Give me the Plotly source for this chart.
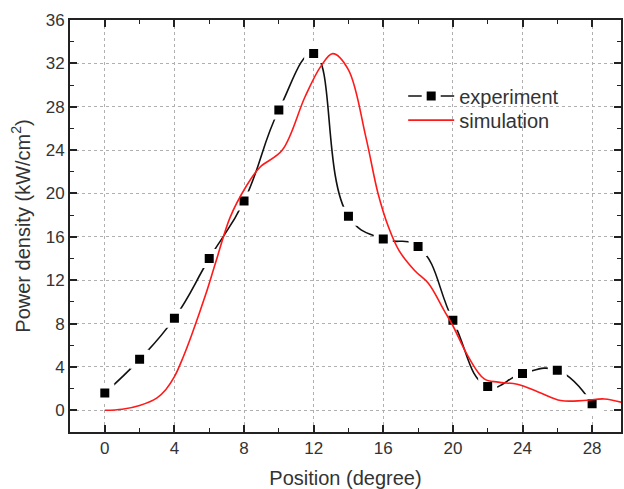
import plotly.graph_objects as go

# Experiment data
exp_x = [0, 2, 4, 6, 8, 10, 12, 14, 16, 18, 20, 22, 24, 26, 28]
exp_y = [1.6, 4.7, 8.5, 14.0, 19.3, 27.7, 32.9, 17.9, 15.8, 15.1, 8.3, 2.2, 3.4, 3.7, 0.6]

# Simulation curve
sim_x = [0, 1, 2, 3, 3.5, 4.0, 4.5, 5.0, 5.8, 6.4, 7.2, 8.1, 8.9, 10.2, 11.5, 12.4, 13.1, 14.0, 15.0, 15.7,
         16.3, 16.9, 17.8, 18.6, 19.5, 20.0, 20.9, 21.8, 22.6, 23.7, 24.9, 26.2, 27.5, 28.7, 29.7]
sim_y = [0, 0.1, 0.45, 1.15, 1.9, 3.1, 4.9, 7.0, 10.7, 13.8, 17.8, 20.6, 22.4, 24.0, 28.9, 31.7, 32.9, 31.4, 25.2, 20.0,
         16.9, 14.75, 12.9, 11.7, 9.2, 7.8, 4.9, 2.9, 2.6, 2.4, 1.7, 0.9, 0.9, 1.05, 0.74]

x_ticks = [0, 4, 8, 12, 16, 20, 24, 28]
y_ticks = [0, 4, 8, 12, 16, 20, 24, 28, 32, 36]

FONT = "Liberation Sans, Arial, sans-serif"

fig = go.Figure()
fig.add_trace(go.Scatter(
    x=exp_x, y=exp_y, name="experiment", mode="lines+markers", legend="legend",
    line=dict(color="#111111", width=1.6, shape="spline", smoothing=1.3),
    marker=dict(symbol="square", size=14, color="#000000",
                line=dict(color="white", width=5)),
))
fig.add_trace(go.Scatter(
    x=sim_x, y=sim_y, name="simulation", mode="lines", legend="legend2",
    line=dict(color="#ff1a1a", width=1.6, shape="spline", smoothing=1.0),
))

axis_common = dict(
    showline=True, linecolor="#222222", linewidth=2, mirror="ticks",
    ticks="inside", ticklen=7, tickwidth=1.5, tickcolor="#222222",
    showgrid=True, gridcolor="#b0b0b0", gridwidth=1, griddash="3px,3px",
    zeroline=False,
    tickfont=dict(family=FONT, size=17, color="#333333"),
    minor=dict(ticks="inside", ticklen=4, tickwidth=1.2, tickcolor="#222222", showgrid=False, dtick=2),
)

leg_common = dict(x=0.6047, xanchor="left", yanchor="middle", bgcolor="rgba(0,0,0,0)",
                  font=dict(family=FONT, size=20, color="#333333"), itemwidth=46)

fig.update_layout(
    width=624, height=489,
    margin=dict(l=70, r=1, t=20, b=57),
    paper_bgcolor="white", plot_bgcolor="white",
    font=dict(family=FONT, color="#333333"),
    xaxis=dict(range=[-2, 29.66], tickvals=x_ticks, **axis_common,
               title=dict(text="Position (degree)", font=dict(family=FONT, size=20, color="#333333"),
                          standoff=14)),
    yaxis=dict(range=[-2, 36], tickvals=y_ticks, **axis_common,
               title=dict(text="Power density (kW/cm<sup>2</sup>)",
                          font=dict(family=FONT, size=20, color="#333333"), standoff=10)),
    legend=dict(y=0.8155, **leg_common),
    legend2=dict(y=0.757, **leg_common),
    showlegend=True,
)

fig.write_html("out.html")
